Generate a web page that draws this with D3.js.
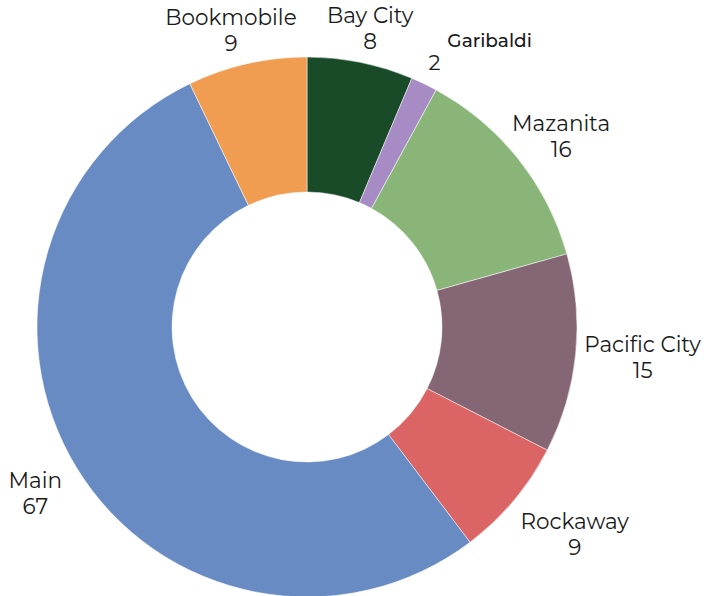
<!DOCTYPE html>
<html>
<head>
<meta charset="utf-8">
<script src="https://cdn.jsdelivr.net/npm/d3@7"></script>
<style>
  body { margin: 0; background: #fff; }
  #donutchart { width: 717px; height: 596px; }
</style>
</head>
<body>
<div id="donutchart"></div>
<script>
const branches = ["Bay City", "Garibaldi", "Mazanita", "Pacific City", "Rockaway", "Main", "Bookmobile"];
const counts = [8, 2, 16, 15, 9, 67, 9];
const sliceColors = ["#194b29", "#a68bc4", "#8ab579", "#856674", "#db6464", "#688bc4", "#f09d52"];

const fullWidth = 717;
const fullHeight = 596;
const cx = 307, cy = 327;
const outerR = 270, innerR = 135;

const data = branches.map((name, i) => ({ name, value: counts[i] }));
const total = d3.sum(counts);

const svg = d3.select("#donutchart")
  .append("svg")
  .attr("width", fullWidth)
  .attr("height", fullHeight);

const chartGroup = svg.append("g").attr("transform", `translate(${cx}, ${cy})`);

const pie = d3.pie().value((d) => d.value).sort(null);
const arc = d3.arc().innerRadius(innerR).outerRadius(outerR);
const color = d3.scaleOrdinal().domain(branches).range(sliceColors);

const arcs = pie(data);

// === Slices ===
chartGroup.selectAll("path")
  .data(arcs)
  .enter()
  .append("path")
  .attr("d", arc)
  .attr("fill", (d) => color(d.data.name))
  .attr("stroke", "#fff")
  .attr("stroke-width", 0.5);

// === Labels ===
const fontFamily = "Montserrat, 'Noto Sans', sans-serif";
const lineH = 26;
const blockH = 56;

arcs.forEach((d) => {
  const a = (d.startAngle + d.endAngle) / 2;
  const sx = Math.sin(a), sy = -Math.cos(a);
  const small = d.value / total < 0.03;

  const g = chartGroup.append("g").style("font-family", fontFamily).style("fill", "#1a1a1a");

  if (small) {
    // tiny slice: value sits at the tip, name pushed off to the side
    const px = sx * (outerR + 12);
    const py = sy * (outerR + 12);
    g.append("text")
      .attr("x", px + 18)
      .attr("y", py - 26)
      .attr("text-anchor", "start")
      .style("font-size", "18.5px")
      .style("font-weight", 500)
      .text(d.data.name);
    g.append("text")
      .attr("x", px + 5)
      .attr("y", py - 3)
      .attr("text-anchor", "middle")
      .style("font-size", "21px")
      .text(d.data.value);
    return;
  }

  // labels further out on the lower half
  const pad = 6 + 30 * Math.max(0, sy);
  const px = sx * (outerR + pad);
  const py = sy * (outerR + pad);

  const text = g.append("text")
    .attr("text-anchor", "middle")
    .style("font-size", "21.5px")
    .text(d.data.name);
  const w = text.node().getComputedTextLength();
  const lx = px + sx * w / 2;
  const ly = py + sy * blockH / 2;

  text.attr("x", lx).attr("y", ly - 6);
  g.append("text")
    .attr("x", lx)
    .attr("y", ly - 6 + lineH)
    .attr("text-anchor", "middle")
    .style("font-size", "21.5px")
    .text(d.data.value);
});
</script>
</body>
</html>
